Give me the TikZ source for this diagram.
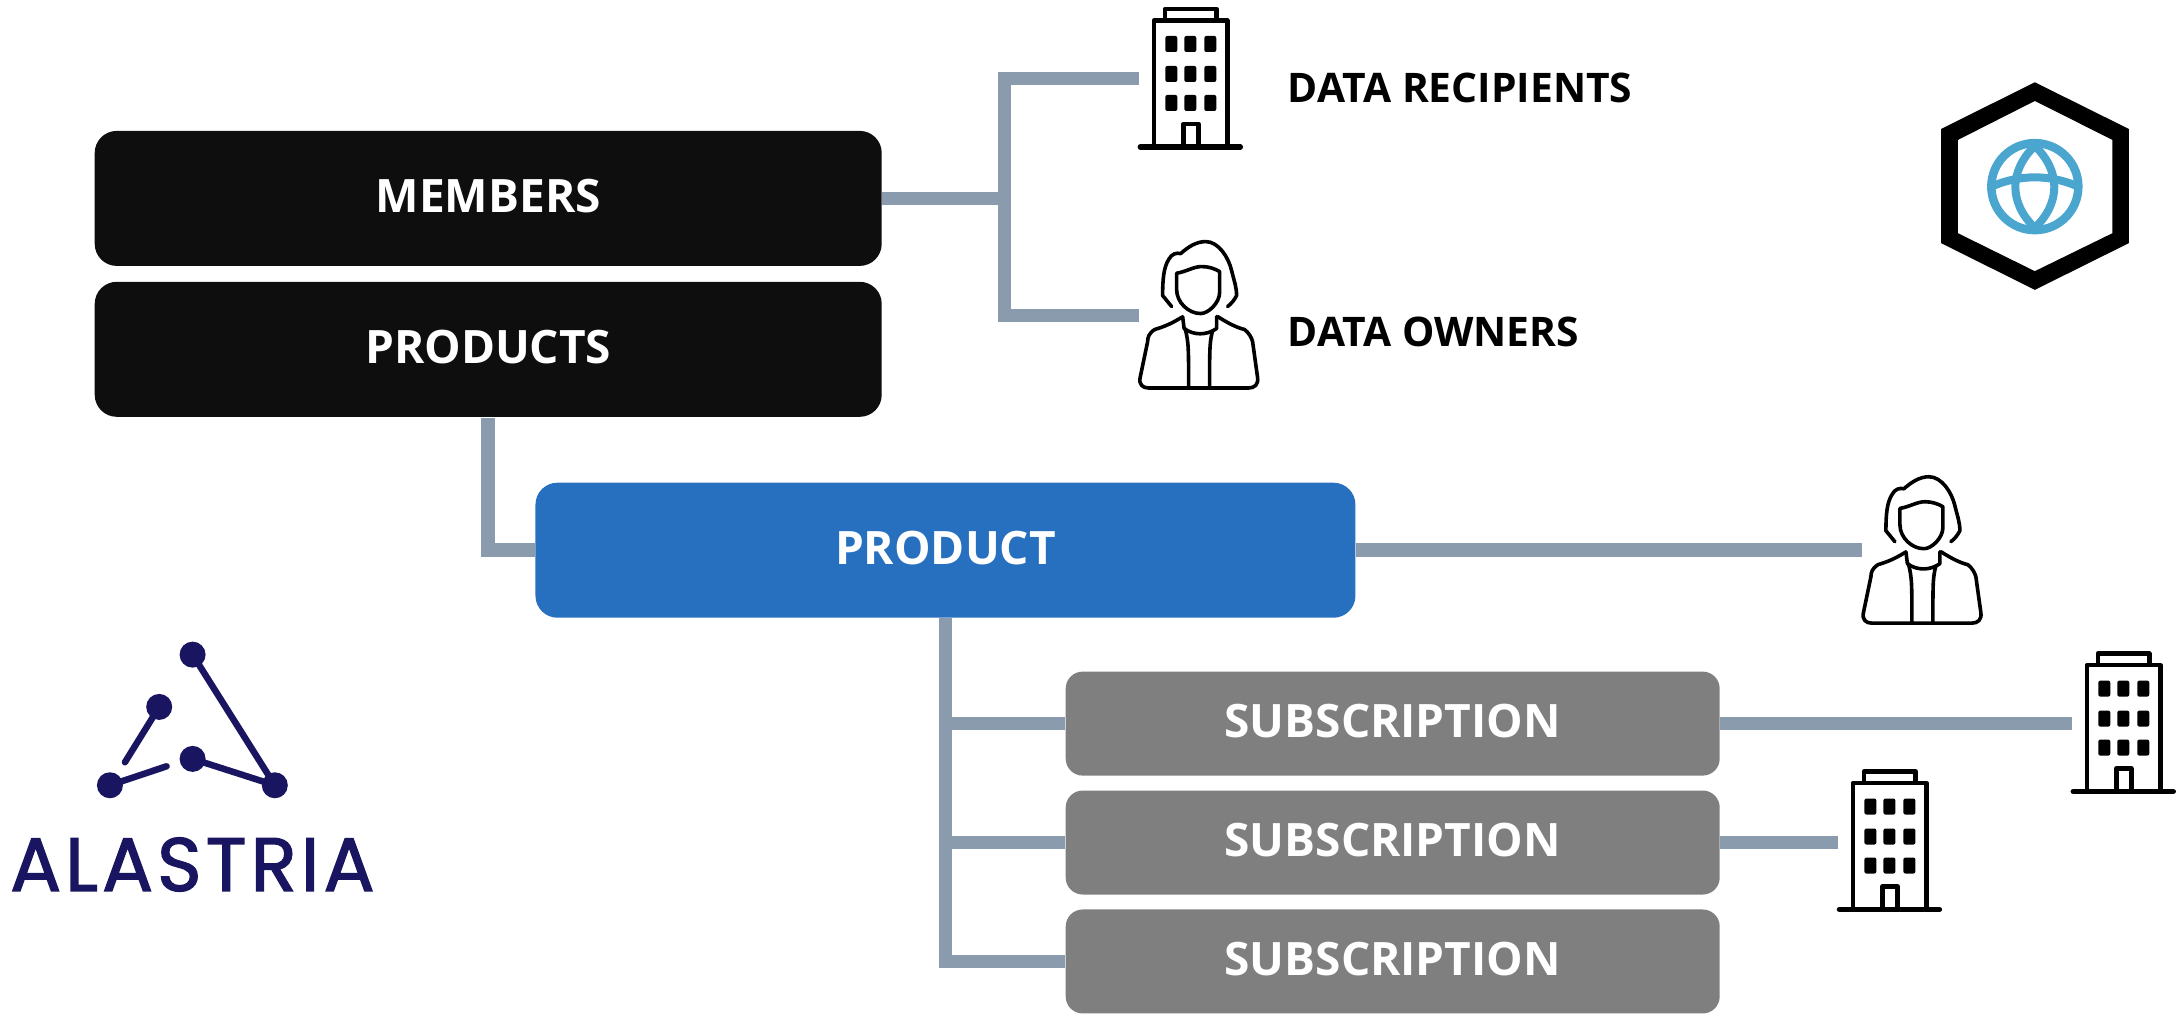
\documentclass[tikz,border=0pt]{standalone}
\usepackage{xcolor}
\usepackage{fontspec}
\setmainfont{Open Sans}
\newfontfamily\logofont[LetterSpace=5.5,FakeBold=1.8]{Poppins}

\definecolor{linkgray}{HTML}{8B9BAE}
\definecolor{boxblack}{HTML}{0E0E0E}
\definecolor{boxblue}{HTML}{2770BF}
\definecolor{boxgray}{HTML}{7F7F7F}
\definecolor{logonavy}{HTML}{1A1560}
\definecolor{globeblue}{HTML}{4BA6CF}

\begin{document}
\begin{tikzpicture}[x=0.01cm,y=-0.01cm]
        % Define styles
        \tikzset{
            box/.style={rectangle, text=white, inner sep=0pt, text depth=0.05cm, font=\fontsize{13.1}{15}\selectfont\bfseries},
            blackbox/.style={box, fill=boxblack, minimum width=7.87cm, minimum height=1.35cm, rounded corners=0.22cm},
            bluebox/.style={box, fill=boxblue, minimum width=8.2cm, minimum height=1.35cm, rounded corners=0.22cm},
            graybox/.style={box, fill=boxgray, minimum width=6.54cm, minimum height=1.04cm, rounded corners=0.17cm},
            label/.style={anchor=west, inner sep=0pt, font=\fontsize{11.6}{14}\selectfont\bfseries},
            link/.style={draw=linkgray, line width=0.135cm},
            dot/.style={circle, fill=logonavy, minimum size=0.26cm, inner sep=0pt},
            logoline/.style={draw=logonavy, line width=0.065cm, line cap=round},
            building/.pic={
                \draw[line width=0.055cm, line cap=round] (-50,0) -- (50,0);
                \draw[line width=0.045cm, line join=round] (-36.5,0) -- (-36.5,-126.5) -- (37,-126.5) -- (37,0);
                \draw[line width=0.045cm, line join=round] (-25.5,-126.5) -- (-25.5,-138) -- (26,-138) -- (26,-126.5);
                \draw[line width=0.045cm, line join=round] (-7,0) -- (-7,-23) -- (8,-23) -- (8,0);
                \foreach \wx in {-25,-6,14} {
                    \foreach \wy in {-111,-81,-52} {
                        \fill[rounded corners=0.02cm] (\wx,\wy) rectangle ++(12,16);
                    }
                }
            },
            person/.pic={
                \begin{scope}[line width=0.036cm, line join=round, line cap=round]
                    % hair
                    \draw (-27,-81) -- (-36,-92) .. controls (-36,-108) and (-35,-120) .. (-30,-128) .. controls (-27,-134) and (-22,-135) .. (-18,-134) .. controls (-10,-141) and (-2,-146) .. (7,-146) .. controls (20,-146) and (30,-130) .. (33,-117) .. controls (36,-105) and (38,-100) .. (38,-92) .. controls (36,-88) and (33,-84) .. (29,-81);
                    % face
                    \draw (-22,-114.3) .. controls (-12,-116) and (-5,-121) .. (3,-121) .. controls (10,-121) and (16,-119) .. (21,-116) -- (21,-95) .. controls (21,-85) and (10,-74) .. (2,-74) .. controls (-10,-74) and (-22,-85) .. (-22,-98) -- cycle;
                    % neck
                    \draw (-16,-71) -- (-14.5,-59) .. controls (-5,-52) and (8,-52) .. (18,-59) -- (18,-71);
                    % body
                    \draw (-16.5,-70.5) .. controls (-30,-62) and (-38,-60) .. (-44,-58) .. controls (-50,-54) and (-51,-50) .. (-51,-46) -- (-58.5,-10) .. controls (-60,-3) and (-56,0.5) .. (-50,0.5) -- (50,0.5) .. controls (56,0.5) and (60,-3) .. (59,-10) -- (54,-46) .. controls (53,-50) and (50,-55) .. (46,-58) .. controls (38,-60) and (30,-64) .. (19,-71);
                    % lapels
                    \draw (-13.5,-59) .. controls (-10,-45) and (-10,-40) .. (-10,0);
                    \draw (14,-57) .. controls (11,-45) and (11,-40) .. (11,0);
                \end{scope}
            }
        }

        % Boxes
        \node[blackbox] (members_node) at (488.5,198.5) {MEMBERS};
        \node[blackbox] (products_node) at (488.5,349.5) {PRODUCTS};
        \node[bluebox] (product_node) at (946,550.5) {PRODUCT};
        \node[graybox] (subscription_node_1) at (1393.5,724) {SUBSCRIPTION};
        \node[graybox] (subscription_node_2) at (1393.5,843) {SUBSCRIPTION};
        \node[graybox] (subscription_node_3) at (1393.5,962) {SUBSCRIPTION};

        % Labels
        \node[label] (recipients_label) at (1288,88) {DATA RECIPIENTS};
        \node[label] (owners_label) at (1288,332) {DATA OWNERS};

        % Free ends of the connectors
        \coordinate (members_trunk) at (1005,198.5);
        \coordinate (recipients_end) at (1140,78.5);
        \coordinate (owners_end) at (1140,315.5);
        \coordinate (products_corner) at (488.5,550.5);
        \coordinate (product_trunk) at (946,618);
        \coordinate (trunk_bottom) at (946,962);
        \coordinate (person_end) at (1863,550.5);
        \coordinate (building_end_1) at (2073,724);
        \coordinate (building_end_2) at (1839,843);

        % Connectors
        \draw[link] (members_node.east) -- (members_trunk);
        \draw[link] (recipients_end) -- (members_trunk |- recipients_end) -- (members_trunk |- owners_end) -- (owners_end);
        \draw[link] (products_corner |- products_node.south) -- (products_corner) -- (product_node.west);
        \draw[link] (product_trunk) -- (trunk_bottom) -- (subscription_node_3.west);
        \draw[link] (product_trunk |- subscription_node_1.west) -- (subscription_node_1.west);
        \draw[link] (product_trunk |- subscription_node_2.west) -- (subscription_node_2.west);
        \draw[link] (product_node.east) -- (person_end);
        \draw[link] (subscription_node_1.east) -- (building_end_1);
        \draw[link] (subscription_node_2.east) -- (building_end_2);

        % Icons
        \pic at (1191,147) {building};
        \pic at (2124.5,792) {building};
        \pic at (1890.5,910) {building};
        \pic at (1199.3,387.7) {person};
        \pic at (1923,623) {person};

        % Hexagon with globe
        \fill[even odd rule] (2036,82.3) -- (2130,129) -- (2130,243.3) -- (2036,290) -- (1942.3,243.3) -- (1942.3,129) -- cycle
            (2036,101) -- (2113.7,140) -- (2113.7,233.3) -- (2036,271.3) -- (1959,233.3) -- (1959,140) -- cycle;
        \coordinate (globe_center) at (2036,186.7);
        \draw[globeblue, line width=0.085cm] (globe_center) circle (0.435cm);
        \draw[globeblue, line width=0.08cm, line join=round] (2036,146) .. controls (2010,171) and (2010,203) .. (2036,228) .. controls (2062,203) and (2062,171) .. (2036,146) -- cycle;
        \draw[globeblue, line width=0.08cm] (1995,185.7) .. controls (2021,174.7) and (2051,174.7) .. (2077,185.7);

        % Logo
        \node[dot] (dot_top) at (192.7,655) {};
        \node[dot] (dot_left) at (159.3,707.3) {};
        \node[dot] (dot_middle) at (192.7,759.3) {};
        \node[dot] (dot_corner_left) at (110,785.7) {};
        \node[dot] (dot_corner_right) at (275,785.7) {};
        \coordinate (left_end) at (125,762.7);
        \coordinate (bottom_end) at (166.7,766.7);
        \draw[logoline] (dot_top.center) -- (dot_corner_right.center);
        \draw[logoline] (dot_middle.center) -- (dot_corner_right.center);
        \draw[logoline] (dot_left.center) -- (left_end);
        \draw[logoline] (dot_corner_left.center) -- (bottom_end);
        \node[text=logonavy, inner sep=0pt, font=\fontsize{21.5}{24}\logofont] (logo_text) at (192.5,865) {ALASTRIA};

        \useasboundingbox (0,0) rectangle (2176,1014);
    \end{tikzpicture}
\end{document}
